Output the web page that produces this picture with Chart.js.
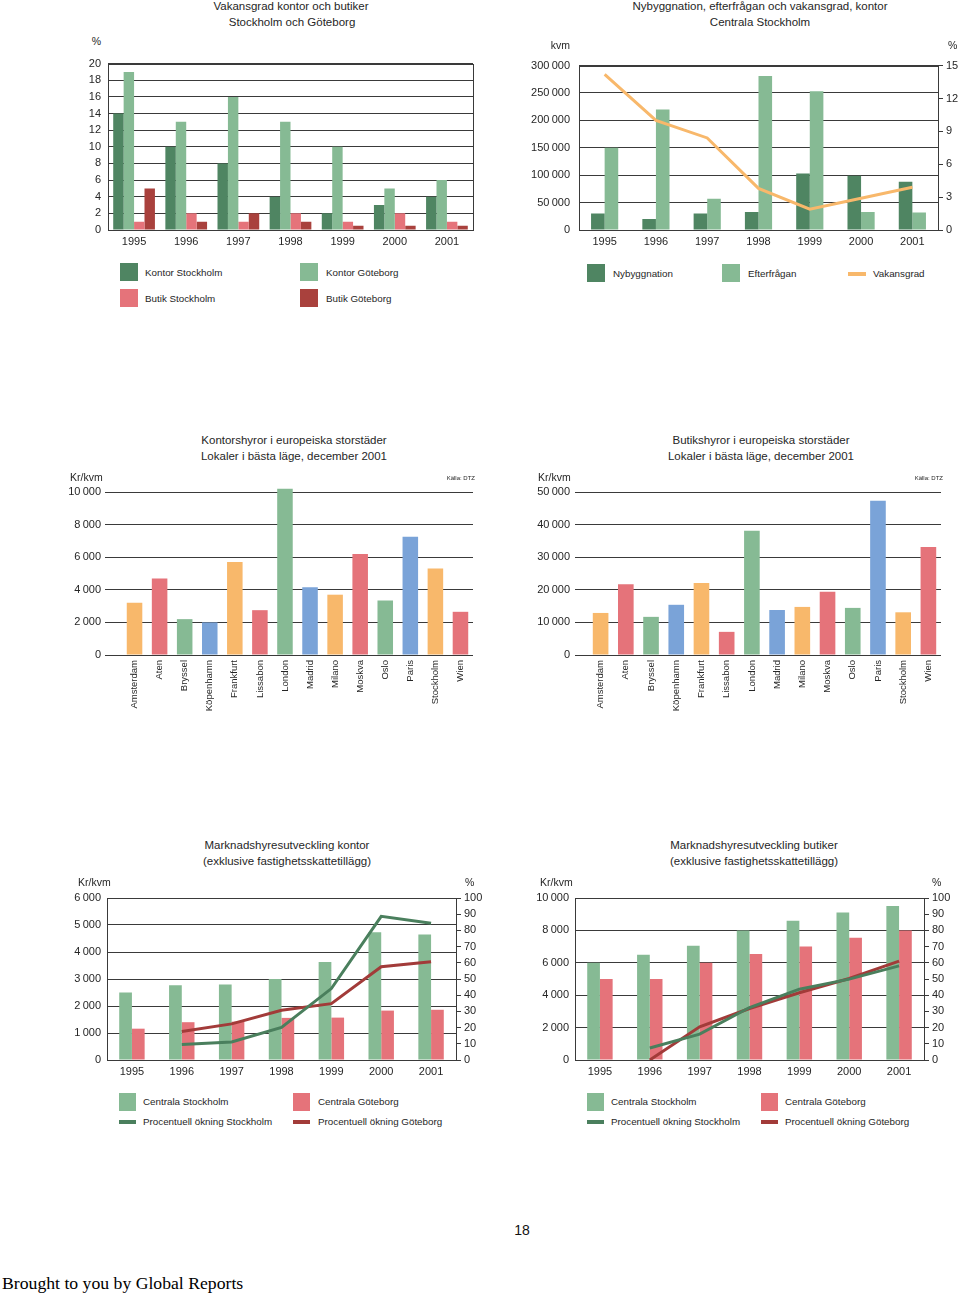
<!DOCTYPE html>
<html>
<head>
<meta charset="utf-8">
<script src="https://cdn.jsdelivr.net/npm/chart.js@4.4.1/dist/chart.umd.min.js"></script>
<style>
  html, body { margin: 0; padding: 0; background: #fff; }
  body { width: 960px; height: 1294px; position: relative; overflow: hidden; }
  canvas { position: absolute; }
  .t { position: absolute; white-space: nowrap; line-height: 1; color: #262626;
       font-family: 'Liberation Sans', Arial, sans-serif; }
  .sw { position: absolute; }
</style>
</head>
<body>
<canvas id="c1" width="440" height="200" style="left:50px;top:50px"></canvas>
<canvas id="c2" width="450" height="200" style="left:510px;top:50px"></canvas>
<canvas id="c3" width="430" height="245" style="left:50px;top:480px"></canvas>
<canvas id="c4" width="430" height="245" style="left:520px;top:480px"></canvas>
<canvas id="c5" width="440" height="195" style="left:50px;top:885px"></canvas>
<canvas id="c6" width="445" height="195" style="left:515px;top:885px"></canvas>
<script>
// --- data ---
const years = ['1995', '1996', '1997', '1998', '1999', '2000', '2001'];

// Vakansgrad kontor och butiker (%)
const vakKontorSthlm = [14, 10, 8, 4, 2, 3, 4];
const vakKontorGbg = [19, 13, 16, 13, 10, 5, 6];
const vakButikSthlm = [1, 2, 1, 2, 1, 2, 1];
const vakButikGbg = [5, 1, 2, 1, 0.5, 0.5, 0.5];

// Nybyggnation, efterfrågan (kvm) och vakansgrad (%)
const nybyggnation = [30000, 20000, 30000, 33000, 103000, 99000, 88000];
const efterfragan = [150000, 220000, 57000, 281000, 253000, 33000, 32000];
const vakansgrad = [14.2, 10, 8.4, 3.8, 1.9, 2.9, 3.9];

// Hyror i europeiska storstäder (kr/kvm)
const cities = ['Amsterdam', 'Aten', 'Bryssel', 'Köpenhamn', 'Frankfurt', 'Lissabon', 'London',
  'Madrid', 'Milano', 'Moskva', 'Oslo', 'Paris', 'Stockholm', 'Wien'];
const kontorshyror = [3200, 4700, 2200, 2000, 5700, 2750, 10200, 4150, 3700, 6200, 3350, 7250, 5300, 2650];
const butikshyror = [12900, 21700, 11700, 15400, 22100, 7100, 38100, 13800, 14750, 19400, 14450, 47300, 13100, 33100];

// Marknadshyresutveckling kontor
const kontorSthlm = [2500, 2770, 2800, 3000, 3630, 4730, 4650];
const kontorGbg = [1160, 1400, 1420, 1560, 1570, 1830, 1860];
const kontorOkningSthlm = [null, 9.6, 11.1, 20.1, 44.1, 88.7, 84.4];
const kontorOkningGbg = [null, 17.6, 22.3, 30.7, 34.8, 57.6, 60.7];

// Marknadshyresutveckling butiker
const butikSthlm = [6000, 6500, 7050, 8000, 8600, 9100, 9500];
const butikGbg = [5000, 5000, 6000, 6550, 7000, 7550, 8000];
const butikOkningSthlm = [null, 7.4, 16, 32.4, 43.7, 49.9, 58.1];
const butikOkningGbg = [null, 0, 20.5, 31.8, 41.5, 50.3, 61];

// --- colours ---
const darkGreen = '#4f8562';
const lightGreen = '#86ba94';
const pink = '#e5737a';
const darkRed = '#a9413d';
const orange = '#f8b86b';
const blue = '#7aa3d8';
const lineGreen = '#4a7f5d';
const lineRed = '#a23b39';
const gridCol = '#3a3a3a';
const textCol = '#262626';
const cityPalette = [orange, pink, lightGreen, blue];

Chart.defaults.font.family = "'Liberation Sans', Arial, sans-serif";
Chart.defaults.font.size = 11;
Chart.defaults.color = textCol;
Chart.defaults.animation = false;
Chart.defaults.responsive = false;
Chart.defaults.plugins.legend.display = false;
Chart.defaults.plugins.tooltip.enabled = false;

function fmt(v) {
  return String(v).replace(/\B(?=(\d{3})+(?!\d))/g, '\u2009');
}

// box around the plot area
const frame = {
  id: 'frame',
  afterDraw(chart) {
    const a = chart.chartArea, ctx = chart.ctx;
    ctx.save();
    ctx.strokeStyle = gridCol;
    ctx.lineWidth = 1;
    ctx.strokeRect(Math.round(a.left) + 0.5, Math.round(a.top) + 0.5,
      Math.round(a.right - a.left), Math.round(a.bottom - a.top));
    ctx.restore();
  }
};

function xYears(h, pad) {
  return {
    grid: { display: false, drawTicks: false },
    border: { display: false },
    ticks: { padding: pad, autoSkip: false, maxRotation: 0 },
    afterFit: s => { s.height = h; }
  };
}

function yLeft(max, step, w, pad) {
  return {
    min: 0, max: max,
    ticks: { stepSize: step, padding: pad, autoSkip: false, callback: v => fmt(v) },
    grid: { color: gridCol, drawTicks: false },
    border: { display: false },
    afterFit: s => { s.width = w; }
  };
}

function yRight(max, step, w) {
  return {
    position: 'right', min: 0, max: max,
    ticks: { stepSize: step, padding: 3, autoSkip: false },
    grid: { drawOnChartArea: false, tickLength: 5, color: gridCol },
    border: { display: false },
    afterFit: s => { s.width = w; }
  };
}

function bars(label, data, color, catPct, barPct) {
  return { type: 'bar', label: label, data: data, backgroundColor: color,
    categoryPercentage: catPct, barPercentage: barPct, order: 2, yAxisID: 'y' };
}

function line(label, data, color) {
  return { type: 'line', label: label, data: data, borderColor: color, borderWidth: 3,
    pointRadius: 0, tension: 0, fill: false, order: 0, yAxisID: 'y2' };
}

// chart 1
new Chart(document.getElementById('c1'), {
  type: 'bar',
  data: {
    labels: years,
    datasets: [
      bars('Kontor Stockholm', vakKontorSthlm, darkGreen, 0.8, 1),
      bars('Kontor Göteborg', vakKontorGbg, lightGreen, 0.8, 1),
      bars('Butik Stockholm', vakButikSthlm, pink, 0.8, 1),
      bars('Butik Göteborg', vakButikGbg, darkRed, 0.8, 1)
    ]
  },
  options: {
    layout: { padding: { top: 8, right: 17, left: 0, bottom: 0 } },
    scales: { x: xYears(20, 5), y: yLeft(20, 2, 58, 7) }
  },
  plugins: [frame]
});

// chart 2
new Chart(document.getElementById('c2'), {
  type: 'bar',
  data: {
    labels: years,
    datasets: [
      bars('Nybyggnation', nybyggnation, darkGreen, 0.53, 1),
      bars('Efterfrågan', efterfragan, lightGreen, 0.53, 1),
      line('Vakansgrad', vakansgrad, orange)
    ]
  },
  options: {
    layout: { padding: { top: 12, right: 0, left: 0, bottom: 0 } },
    scales: { x: xYears(20, 5), y: yLeft(300000, 50000, 69, 9), y2: yRight(15, 3, 22) }
  },
  plugins: [frame]
});

// charts 3 and 4
function cityChart(id, values, max, step, w, tick, pad, right) {
  return new Chart(document.getElementById(id), {
    type: 'bar',
    data: {
      labels: cities,
      datasets: [{
        data: values,
        backgroundColor: cities.map((c, i) => cityPalette[i % 4]),
        categoryPercentage: 1, barPercentage: 0.62, clip: false
      }]
    },
    options: {
      layout: { padding: { top: 12, right: right, left: 0, bottom: 0 } },
      scales: {
        x: {
          grid: { display: false, drawTicks: false },
          border: { display: false },
          ticks: { padding: 5, autoSkip: false, minRotation: 90, maxRotation: 90, font: { size: 9.5 } },
          afterFit: s => { s.height = 70; }
        },
        y: {
          min: 0, max: max,
          ticks: { stepSize: step, padding: pad, autoSkip: false, callback: v => fmt(v) },
          grid: { color: gridCol, tickColor: gridCol, drawTicks: true, tickLength: tick },
          border: { display: false },
          afterFit: s => { s.width = w; }
        }
      }
    }
  });
}
cityChart('c3', kontorshyror, 10000, 2000, 72, 17, 4, 7);
cityChart('c4', butikshyror, 50000, 10000, 68, 13, 5, 9);

// chart 5
new Chart(document.getElementById('c5'), {
  type: 'bar',
  data: {
    labels: years,
    datasets: [
      bars('Centrala Stockholm', kontorSthlm, lightGreen, 0.51, 1),
      bars('Centrala Göteborg', kontorGbg, pink, 0.51, 1),
      line('Procentuell ökning Stockholm', kontorOkningSthlm, lineGreen),
      line('Procentuell ökning Göteborg', kontorOkningGbg, lineRed)
    ]
  },
  options: {
    layout: { padding: { top: 13, right: 0, left: 0, bottom: 0 } },
    scales: { x: xYears(20, 5), y: yLeft(6000, 1000, 57, 6), y2: yRight(100, 10, 34) }
  },
  plugins: [frame]
});

// chart 6
new Chart(document.getElementById('c6'), {
  type: 'bar',
  data: {
    labels: years,
    datasets: [
      bars('Centrala Stockholm', butikSthlm, lightGreen, 0.51, 1),
      bars('Centrala Göteborg', butikGbg, pink, 0.51, 1),
      line('Procentuell ökning Stockholm', butikOkningSthlm, lineGreen),
      line('Procentuell ökning Göteborg', butikOkningGbg, lineRed)
    ]
  },
  options: {
    layout: { padding: { top: 13, right: 0, left: 0, bottom: 0 } },
    scales: { x: xYears(20, 5), y: yLeft(10000, 2000, 60, 6), y2: yRight(100, 10, 36) }
  },
  plugins: [frame]
});

// --- titles, units, legends as html text ---
function text(x, y, str, size, align, extra) {
  const d = document.createElement('div');
  d.className = 't';
  d.textContent = str;
  d.style.left = x + 'px';
  d.style.top = y + 'px';
  d.style.fontSize = size + 'px';
  const tx = align === 'center' ? '-50%' : align === 'right' ? '-100%' : '0';
  d.style.transform = 'translate(' + tx + ', -50%)';
  if (extra) Object.assign(d.style, extra);
  document.body.appendChild(d);
}
function swatch(x, y, w, h, color) {
  const d = document.createElement('div');
  d.className = 'sw';
  Object.assign(d.style, { left: x + 'px', top: y + 'px', width: w + 'px', height: h + 'px', background: color });
  document.body.appendChild(d);
}

// titles
text(291, 7, 'Vakansgrad kontor och butiker', 11.5, 'center');
text(292, 23, 'Stockholm och Göteborg', 11.5, 'center');
text(760, 7, 'Nybyggnation, efterfrågan och vakansgrad, kontor', 11.5, 'center');
text(760, 23, 'Centrala Stockholm', 11.5, 'center');
text(294, 441, 'Kontorshyror i europeiska storstäder', 11.5, 'center');
text(294, 457, 'Lokaler i bästa läge, december 2001', 11.5, 'center');
text(761, 441, 'Butikshyror i europeiska storstäder', 11.5, 'center');
text(761, 457, 'Lokaler i bästa läge, december 2001', 11.5, 'center');
text(287, 846, 'Marknadshyresutveckling kontor', 11.5, 'center');
text(287, 862, '(exklusive fastighetsskattetillägg)', 11.5, 'center');
text(754, 846, 'Marknadshyresutveckling butiker', 11.5, 'center');
text(754, 862, '(exklusive fastighetsskattetillägg)', 11.5, 'center');

// units
text(101, 41, '%', 10.5, 'right');
text(570, 45, 'kvm', 10.5, 'right');
text(948, 45, '%', 10.5, 'left');
text(70, 477, 'Kr/kvm', 10.5, 'left');
text(475, 478, 'Källa: DTZ', 6, 'right');
text(538, 477, 'Kr/kvm', 10.5, 'left');
text(943, 478, 'Källa: DTZ', 6, 'right');
text(78, 882, 'Kr/kvm', 10.5, 'left');
text(465, 882, '%', 10.5, 'left');
text(540, 882, 'Kr/kvm', 10.5, 'left');
text(932, 882, '%', 10.5, 'left');

// legend 1
swatch(120, 263, 18, 18, darkGreen); text(145, 273, 'Kontor Stockholm', 9.8, 'left');
swatch(300, 263, 18, 18, lightGreen); text(326, 273, 'Kontor Göteborg', 9.8, 'left');
swatch(120, 289, 18, 18, pink); text(145, 299, 'Butik Stockholm', 9.8, 'left');
swatch(300, 289, 18, 18, darkRed); text(326, 299, 'Butik Göteborg', 9.8, 'left');

// legend 2
swatch(587, 264, 18, 18, darkGreen); text(613, 274, 'Nybyggnation', 9.8, 'left');
swatch(722, 264, 18, 18, lightGreen); text(748, 274, 'Efterfrågan', 9.8, 'left');
swatch(848, 272, 18, 4, orange); text(873, 274, 'Vakansgrad', 9.8, 'left');

// legend 5
swatch(119, 1093, 17, 18, lightGreen); text(143, 1102, 'Centrala Stockholm', 9.8, 'left');
swatch(293, 1093, 17, 18, pink); text(318, 1102, 'Centrala Göteborg', 9.8, 'left');
swatch(119, 1120, 17, 4, lineGreen); text(143, 1122, 'Procentuell ökning Stockholm', 9.8, 'left');
swatch(293, 1120, 17, 4, lineRed); text(318, 1122, 'Procentuell ökning Göteborg', 9.8, 'left');

// legend 6
swatch(587, 1093, 17, 18, lightGreen); text(611, 1102, 'Centrala Stockholm', 9.8, 'left');
swatch(761, 1093, 17, 18, pink); text(785, 1102, 'Centrala Göteborg', 9.8, 'left');
swatch(587, 1120, 17, 4, lineGreen); text(611, 1122, 'Procentuell ökning Stockholm', 9.8, 'left');
swatch(761, 1120, 17, 4, lineRed); text(785, 1122, 'Procentuell ökning Göteborg', 9.8, 'left');

// page number and footer
text(522, 1230, '18', 14, 'center', { fontFamily: "'Liberation Sans', Arial, sans-serif", color: '#111' });
text(2, 1284, 'Brought to you by Global Reports', 17.7, 'left', { fontFamily: "'Liberation Serif', 'Times New Roman', serif", color: '#000' });
</script>
</body>
</html>
